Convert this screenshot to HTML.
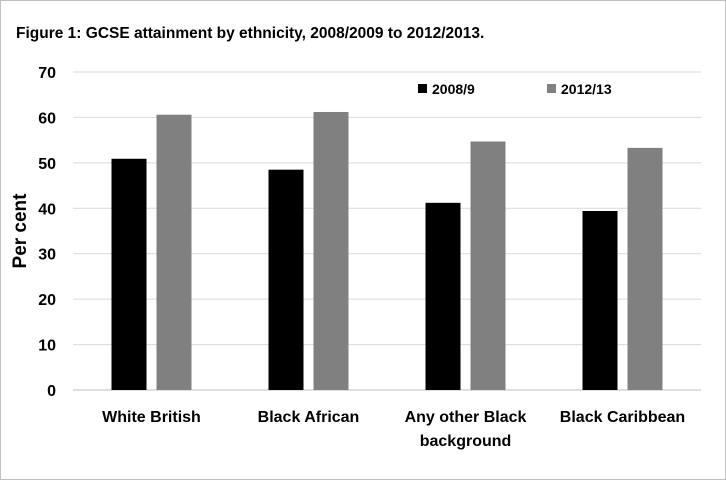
<!DOCTYPE html>
<html><head><meta charset="utf-8"><style>
body{margin:0;background:#fff;}
svg{display:block;font-family:"Liberation Sans",sans-serif;font-weight:bold;}
</style></head><body>
<svg width="726" height="480" viewBox="0 0 726 480">
<rect x="0.5" y="0.5" width="725" height="479" fill="#fff" stroke="#bfbfbf"/>
<text x="16" y="38" font-size="15.5" fill="#000">Figure 1: GCSE attainment by ethnicity, 2008/2009 to 2012/2013.</text>
<text transform="translate(26,231) rotate(-90)" text-anchor="middle" font-size="19" fill="#000">Per cent</text>
<g id="grid"></g><g id="bars"></g><g id="labels"></g>
<g>
<rect x="418" y="84" width="9" height="9" fill="#000"/>
<text x="432" y="94" font-size="14">2008/9</text>
<rect x="547" y="84" width="9" height="9" fill="#808080"/>
<text x="561" y="94" font-size="14">2012/13</text>
</g>
</svg>
<script>
const categories=[["White British"],["Black African"],["Any other Black","background"],["Black Caribbean"]];
const series2008=[50.9,48.5,41.2,39.4];
const series2012=[60.6,61.2,54.7,53.3];
const yTicks=[0,10,20,30,40,50,60,70];
const NS="http://www.w3.org/2000/svg";
const x0=73,x1=701,yb=390,yt=72,ymax=70;
const y=v=>yb-(v/ymax)*(yb-yt);
const band=(x1-x0)/categories.length;
const g=document.getElementById('grid'),b=document.getElementById('bars'),l=document.getElementById('labels');
function mk(tag,at,parent){const e=document.createElementNS(NS,tag);for(const k in at)e.setAttribute(k,at[k]);parent.appendChild(e);return e;}
yTicks.forEach(t=>{
 const ln=mk('line',{x1:x0,x2:x1,y1:y(t),y2:y(t),stroke:t===0?'#bfbfbf':'#d9d9d9','stroke-width':1},g);
 
 
 const tx=mk('text',{x:56,y:y(t)+6,'text-anchor':'end','font-size':16},g);
 tx.textContent=t;
 
 
});
categories.forEach((c,i)=>{
 const cx=x0+band*(i+0.5);
 const r1=mk('rect',{x:cx-40,y:y(series2008[i]),width:35,height:yb-y(series2008[i]),fill:'#000'},b);
 
 
 const r2=mk('rect',{x:cx+5,y:y(series2012[i]),width:35,height:yb-y(series2012[i]),fill:'#808080'},b);
 
 
 c.forEach((line,j)=>{
  const tx=mk('text',{x:cx,y:422+j*24,'text-anchor':'middle','font-size':16},l);
  tx.textContent=line;
  
  
 });
});
</script>
</body></html>
